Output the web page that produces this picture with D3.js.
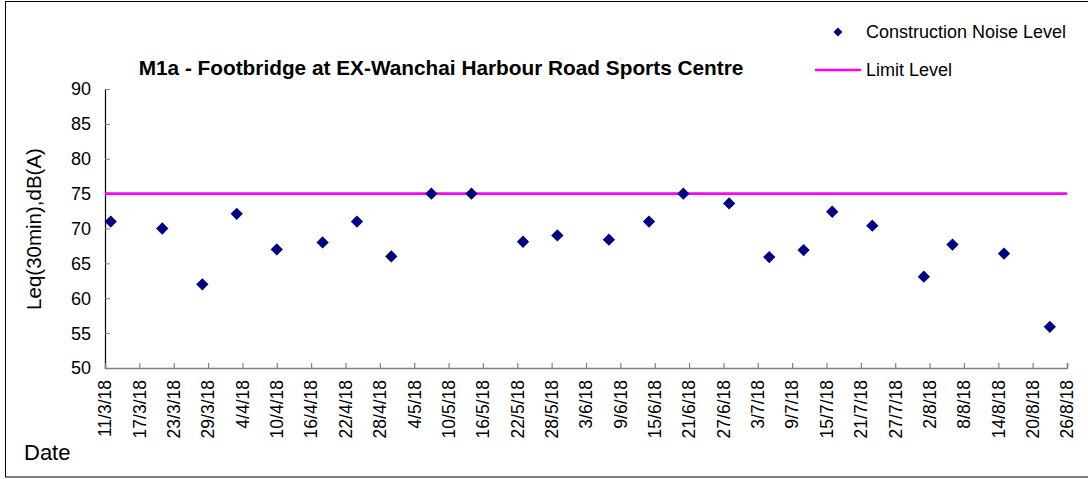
<!DOCTYPE html>
<html lang="en">
<head>
  <meta charset="UTF-8">
  <title>M1a - Construction Noise Level</title>
  <script src="https://cdnjs.cloudflare.com/ajax/libs/d3/7.8.5/d3.min.js"></script>
  <style>
    html, body {
      margin: 0;
      padding: 0;
      background: #fff;
    }
    #chart svg {
      display: block;
      font-family: "Liberation Sans", Arial, sans-serif;
    }
  </style>
</head>
<body>
  <div id="chart"></div>

  <script>
    // measurement dates (d/m/yy) and Leq values
    const sampleDates = ["12/3/18", "21/3/18", "28/3/18", "3/4/18", "10/4/18", "18/4/18", "24/4/18", "30/4/18",
      "7/5/18", "14/5/18", "23/5/18", "29/5/18", "7/6/18", "14/6/18", "20/6/18", "28/6/18",
      "5/7/18", "11/7/18", "16/7/18", "23/7/18", "1/8/18", "6/8/18", "15/8/18", "23/8/18"];
    const noiseLevels = [71, 70, 62, 72.1, 67, 68, 71, 66,
      75, 75, 68.1, 69, 68.4, 71, 75, 73.6,
      65.9, 66.9, 72.4, 70.4, 63.1, 67.7, 66.4, 55.9];

    const limitDates = ["11/3/18", "26/8/18"];
    const limitLevels = [75, 75];

    const xTickLabels = ["11/3/18", "17/3/18", "23/3/18", "29/3/18", "4/4/18", "10/4/18", "16/4/18", "22/4/18",
      "28/4/18", "4/5/18", "10/5/18", "16/5/18", "22/5/18", "28/5/18", "3/6/18", "9/6/18", "15/6/18",
      "21/6/18", "27/6/18", "3/7/18", "9/7/18", "15/7/18", "21/7/18", "27/7/18", "2/8/18", "8/8/18",
      "14/8/18", "20/8/18", "26/8/18"];
    const yTicks = [50, 55, 60, 65, 70, 75, 80, 85, 90];

    const width = 1088, height = 479;
    const margin = { top: 89, right: 21, bottom: 111, left: 105 };

    const parseDate = d3.utcParse("%d/%m/%y");
    const fmtDate = d3.utcFormat("%-d/%-m/%y");

    const svg = d3.select("#chart")
      .append("svg")
        .attr("width", width)
        .attr("height", height);

    // outer frame
    svg.append("rect")
      .attr("x", 5.5)
      .attr("y", 1.5)
      .attr("width", 1100)
      .attr("height", 475.5)
      .attr("fill", "none")
      .attr("stroke", "#000")
      .attr("stroke-width", 1);

    const tickDates = xTickLabels.map(parseDate);

    const x = d3.scaleUtc()
      .domain([tickDates[0], tickDates[tickDates.length - 1]])
      .range([margin.left, width - margin.right]);

    const y = d3.scaleLinear()
      .domain([50, 90])
      .range([height - margin.bottom, margin.top]);

    // y axis (ticks point inward)
    const yAxis = svg.append("g")
      .attr("transform", `translate(${margin.left},0)`)
      .call(d3.axisRight(y).tickValues(yTicks).tickSize(5).tickFormat(""));
    yAxis.select(".domain").attr("stroke", "#000").attr("stroke-width", 1.2);
    yAxis.selectAll(".tick line").attr("stroke", "#808080");

    svg.append("g")
      .selectAll("text")
      .data(yTicks)
      .join("text")
        .attr("x", margin.left - 14)
        .attr("y", d => y(d))
        .attr("dy", "0.36em")
        .attr("text-anchor", "end")
        .attr("font-size", 18)
        .attr("fill", "#000")
        .text(d => d);

    // x axis (ticks point up)
    const xAxis = svg.append("g")
      .attr("transform", `translate(0,${height - margin.bottom})`)
      .call(d3.axisTop(x).tickValues(tickDates).tickSize(5).tickSizeOuter(5).tickFormat(""));
    xAxis.select(".domain").attr("stroke", "#808080").attr("stroke-width", 1.5);
    xAxis.selectAll(".tick line").attr("stroke", "#808080").attr("stroke-width", 1.2);

    svg.append("g")
      .selectAll("text")
      .data(tickDates)
      .join("text")
        .attr("transform", d => `translate(${x(d)},${height - margin.bottom + 12}) rotate(-90)`)
        .attr("dy", "0.36em")
        .attr("text-anchor", "end")
        .attr("font-size", 17.5)
        .attr("fill", "#000")
        .text(d => fmtDate(d));

    // limit line
    const limitData = limitDates.map((d, i) => ({ date: parseDate(d), value: limitLevels[i] }));
    svg.append("path")
      .datum(limitData)
      .attr("fill", "none")
      .attr("stroke", "#ff00ff")
      .attr("stroke-width", 2.6)
      .attr("d", d3.line().x(d => x(d.date)).y(d => y(d.value)));

    // noise points
    const noiseData = sampleDates.map((d, i) => ({ date: parseDate(d), value: noiseLevels[i] }));
    const diamond = d3.symbol().type(d3.symbolDiamond2).size(96);
    svg.append("g")
      .selectAll("path")
      .data(noiseData)
      .join("path")
        .attr("transform", d => `translate(${x(d.date)},${y(d.value)})`)
        .attr("d", diamond)
        .attr("fill", "#000080");

    // title
    svg.append("text")
      .attr("x", 441)
      .attr("y", 75)
      .attr("text-anchor", "middle")
      .attr("font-size", 20.8)
      .attr("font-weight", "bold")
      .attr("fill", "#000")
      .text("M1a - Footbridge at EX-Wanchai Harbour Road Sports Centre");

    // axis titles
    svg.append("text")
      .attr("transform", "translate(34,229) rotate(-90)")
      .attr("dy", "0.36em")
      .attr("text-anchor", "middle")
      .attr("font-size", 20.5)
      .attr("fill", "#000")
      .text("Leq(30min),dB(A)");

    svg.append("text")
      .attr("x", 24)
      .attr("y", 460)
      .attr("font-size", 22)
      .attr("fill", "#000")
      .text("Date");

    // legend
    const legend = svg.append("g");
    legend.append("path")
      .attr("transform", "translate(838,32)")
      .attr("d", d3.symbol().type(d3.symbolDiamond2).size(52))
      .attr("fill", "#000080");
    legend.append("text")
      .attr("x", 866)
      .attr("y", 32)
      .attr("dy", "0.36em")
      .attr("font-size", 18)
      .attr("fill", "#000")
      .text("Construction Noise Level");
    legend.append("line")
      .attr("x1", 815)
      .attr("x2", 861)
      .attr("y1", 70)
      .attr("y2", 70)
      .attr("stroke", "#ff00ff")
      .attr("stroke-width", 2.6);
    legend.append("text")
      .attr("x", 866)
      .attr("y", 70)
      .attr("dy", "0.36em")
      .attr("font-size", 18)
      .attr("fill", "#000")
      .text("Limit Level");
  </script>
</body>
</html>
